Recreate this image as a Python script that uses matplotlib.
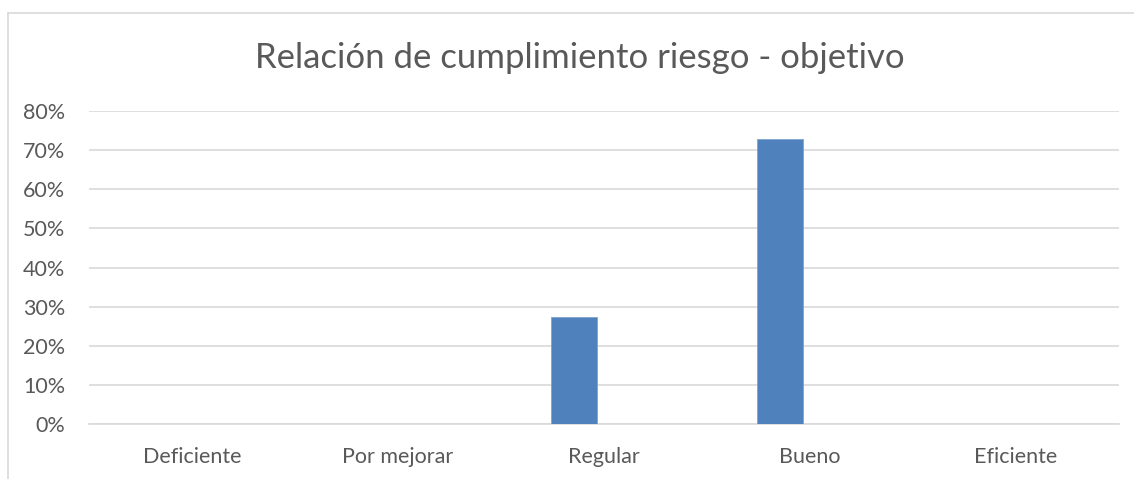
import matplotlib
matplotlib.use('Agg')
import matplotlib.pyplot as plt
from matplotlib.lines import Line2D
from matplotlib.ticker import FuncFormatter

plt.rcParams['font.family'] = ['Lato', 'DejaVu Sans']

# data
categorias = ['Deficiente', 'Por mejorar', 'Regular', 'Bueno', 'Eficiente']
valores = [0.0, 0.0, 3 / 11, 8 / 11, 0.0]
yticks = [0, 0.1, 0.2, 0.3, 0.4, 0.5, 0.6, 0.7, 0.8]

gris_texto = '#595959'
gris_linea = '#d9d9d9'
azul = '#4f81bd'

fig = plt.figure(figsize=(11.34, 4.79), dpi=100)
ax = fig.add_axes([89 / 1134, 1 - 424.3 / 479, 1030 / 1134, 313.6 / 479])

x = list(range(len(categorias)))
xb = [i - 0.144 for i in x]
ax.bar(xb, valores, width=0.223, color=azul, edgecolor='#7fa3d1', linewidth=0.6, zorder=3)

ax.set_xlim(-0.5, len(categorias) - 0.5)
ax.set_ylim(0, 0.8)
ax.set_yticks(yticks)
ax.yaxis.set_major_formatter(FuncFormatter(lambda v, p: '{:.0f}%'.format(v * 100)))
ax.set_xticks(x)
ax.set_xticklabels(categorias)

ax.grid(axis='y', color=gris_linea, linewidth=1.2, zorder=0)
for s in ['top', 'right', 'left']:
	ax.spines[s].set_visible(False)
ax.spines['bottom'].set_color(gris_linea)
ax.spines['bottom'].set_linewidth(1.2)
ax.tick_params(axis='both', length=0, colors=gris_texto, labelsize=15.5)
ax.tick_params(axis='y', pad=17)
ax.tick_params(axis='x', pad=16)

fig.text(580 / 1134, 1 - 58 / 479, 'Relación de cumplimiento riesgo - objetivo',
	ha='center', va='center', fontsize=25, color=gris_texto)

# chart border
fig.add_artist(Line2D([7.5 / 1134, 7.5 / 1134], [0, 1 - 12.5 / 479], color=gris_linea, linewidth=1.2))
fig.add_artist(Line2D([7.5 / 1134, 1], [1 - 12.5 / 479, 1 - 12.5 / 479], color=gris_linea, linewidth=1.2))

fig.savefig('out.png', dpi=100)
